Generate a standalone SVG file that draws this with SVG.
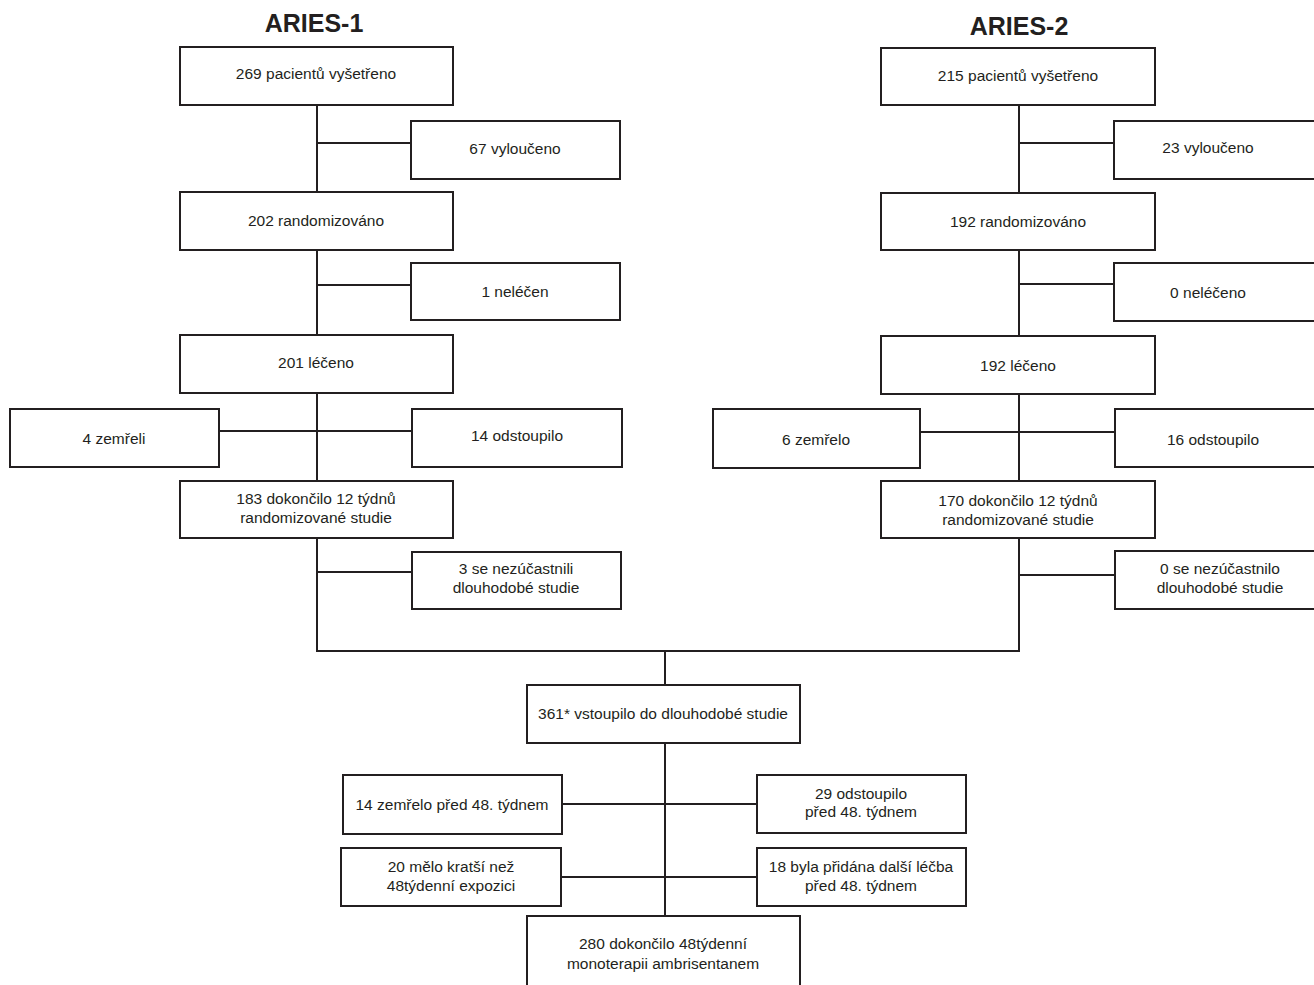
<svg xmlns="http://www.w3.org/2000/svg" width="1314" height="985" viewBox="0 0 1314 985">
<style>
  .box { fill: #ffffff; stroke: #231f20; stroke-width: 2; }
  .con { fill: none; stroke: #231f20; stroke-width: 2; }
  .t { font-family: "Liberation Sans", Arial, sans-serif; font-size: 15.5px; fill: #231f20; text-anchor: middle; }
  .title { font-family: "Liberation Sans", Arial, sans-serif; font-size: 25px; font-weight: bold; fill: #231f20; text-anchor: middle; }
</style>
<rect x="0" y="0" width="1314" height="985" fill="#ffffff"/>

<text class="title" x="314" y="32">ARIES-1</text>
<text class="title" x="1019" y="35">ARIES-2</text>

<g id="connectors">
  <!-- ARIES-1 -->
  <path class="con" d="M317 105 V651"/>
  <path class="con" d="M317 143 H411"/>
  <path class="con" d="M317 285 H411"/>
  <path class="con" d="M219 431 H412"/>
  <path class="con" d="M317 572 H412"/>
  <!-- ARIES-2 -->
  <path class="con" d="M1019 105 V651"/>
  <path class="con" d="M1019 143 H1114"/>
  <path class="con" d="M1019 284 H1114"/>
  <path class="con" d="M920 432 H1115"/>
  <path class="con" d="M1019 575 H1115"/>
  <!-- merge -->
  <path class="con" d="M316 651 H1020"/>
  <path class="con" d="M665 651 V916"/>
  <path class="con" d="M562 804 H757"/>
  <path class="con" d="M561 877 H757"/>
</g>

<g id="a1-screened"><rect class="box" x="180" y="47" width="273" height="58"/><text class="t" x="316" y="79">269 pacientů vyšetřeno</text></g>
<g id="a1-excluded"><rect class="box" x="411" y="121" width="209" height="58"/><text class="t" x="515" y="154">67 vyloučeno</text></g>
<g id="a1-randomized"><rect class="box" x="180" y="192" width="273" height="58"/><text class="t" x="316" y="226">202 randomizováno</text></g>
<g id="a1-untreated"><rect class="box" x="411" y="263" width="209" height="57"/><text class="t" x="515" y="297">1 neléčen</text></g>
<g id="a1-treated"><rect class="box" x="180" y="335" width="273" height="58"/><text class="t" x="316" y="368">201 léčeno</text></g>
<g id="a1-died"><rect class="box" x="10" y="409" width="209" height="58"/><text class="t" x="114" y="444">4 zemřeli</text></g>
<g id="a1-withdrew"><rect class="box" x="412" y="409" width="210" height="58"/><text class="t" x="517" y="441">14 odstoupilo</text></g>
<g id="a1-completed"><rect class="box" x="180" y="481" width="273" height="57"/><text class="t" x="316" y="504">183 dokončilo 12 týdnů</text><text class="t" x="316" y="523">randomizované studie</text></g>
<g id="a1-notlong"><rect class="box" x="412" y="552" width="209" height="57"/><text class="t" x="516" y="574">3 se nezúčastnili</text><text class="t" x="516" y="593">dlouhodobé studie</text></g>

<g id="a2-screened"><rect class="box" x="881" y="48" width="274" height="57"/><text class="t" x="1018" y="81">215 pacientů vyšetřeno</text></g>
<g id="a2-excluded"><rect class="box" x="1114" y="121" width="212" height="58"/><text class="t" x="1208" y="153">23 vyloučeno</text></g>
<g id="a2-randomized"><rect class="box" x="881" y="193" width="274" height="57"/><text class="t" x="1018" y="227">192 randomizováno</text></g>
<g id="a2-untreated"><rect class="box" x="1114" y="263" width="212" height="58"/><text class="t" x="1208" y="298">0 neléčeno</text></g>
<g id="a2-treated"><rect class="box" x="881" y="336" width="274" height="58"/><text class="t" x="1018" y="371">192 léčeno</text></g>
<g id="a2-died"><rect class="box" x="713" y="409" width="207" height="59"/><text class="t" x="816" y="445">6 zemřelo</text></g>
<g id="a2-withdrew"><rect class="box" x="1115" y="409" width="211" height="58"/><text class="t" x="1213" y="445">16 odstoupilo</text></g>
<g id="a2-completed"><rect class="box" x="881" y="481" width="274" height="57"/><text class="t" x="1018" y="506">170 dokončilo 12 týdnů</text><text class="t" x="1018" y="525">randomizované studie</text></g>
<g id="a2-notlong"><rect class="box" x="1115" y="551" width="211" height="58"/><text class="t" x="1220" y="574">0 se nezúčastnilo</text><text class="t" x="1220" y="593">dlouhodobé studie</text></g>

<g id="longterm"><rect class="box" x="527" y="685" width="273" height="58"/><text class="t" x="663" y="719">361* vstoupilo do dlouhodobé studie</text></g>
<g id="lt-died"><rect class="box" x="343" y="775" width="219" height="59"/><text class="t" x="452" y="810">14 zemřelo před 48. týdnem</text></g>
<g id="lt-withdrew"><rect class="box" x="757" y="775" width="209" height="58"/><text class="t" x="861" y="799">29 odstoupilo</text><text class="t" x="861" y="817">před 48. týdnem</text></g>
<g id="lt-short"><rect class="box" x="341" y="848" width="220" height="58"/><text class="t" x="451" y="872">20 mělo kratší než</text><text class="t" x="451" y="891">48týdenní expozici</text></g>
<g id="lt-added"><rect class="box" x="757" y="848" width="209" height="58"/><text class="t" x="861" y="872">18 byla přidána další léčba</text><text class="t" x="861" y="891">před 48. týdnem</text></g>
<g id="lt-completed"><rect class="box" x="527" y="916" width="273" height="80"/><text class="t" x="663" y="949">280 dokončilo 48týdenní</text><text class="t" x="663" y="969">monoterapii ambrisentanem</text></g>
</svg>
